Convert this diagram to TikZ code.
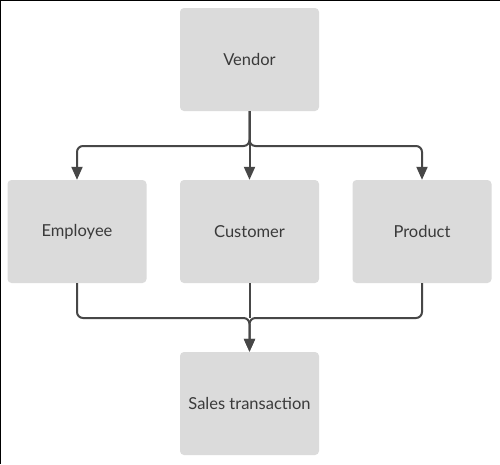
\documentclass[tikz,border=0pt]{standalone}
\usepackage{fontspec}
\setmainfont{Lato}
\usetikzlibrary{arrows.meta}
\begin{document}
\begin{tikzpicture}[x=1pt,y=-1pt,
  box/.style={fill=boxgray,draw=none,rounded corners=4pt,minimum width=139pt,minimum height=103pt,inner sep=0pt,
    font=\fontsize{16.5}{19}\selectfont,text=txtgray},
  conn/.style={draw=linegray,line width=2pt,rounded corners=6pt},
  arr/.style={conn,-{Triangle[width=11pt,length=13pt]}}]
\definecolor{boxgray}{HTML}{DBDBDB}
\definecolor{linegray}{HTML}{474747}
\definecolor{txtgray}{HTML}{3A3A3A}
\useasboundingbox (0,0) rectangle (500,464);
\fill[white] (0,0) rectangle (500,464);
\draw[black,line width=2.5pt] (0,464) -- (0,0) -- (500,0);
\node[box] (v) at (249.5,59.5) {Vendor};
\node[box] (e) at (77,231.5) {Employee};
\node[box] (c) at (249.5,231.5) {Customer};
\node[box] (p) at (422,231.5) {Product};
\node[box] (s) at (249.5,403.5) {Sales transaction};
\coordinate (top) at (249.5,146);
\coordinate (bot) at (249.5,318);
\draw[arr] (v.south) -- (top) -| (e.north);
\draw[arr] (v.south) -- (top) -| (p.north);
\draw[arr] (v.south) -- (c.north);
\draw[arr] (e.south) |- (bot) -- (s.north);
\draw[arr] (p.south) |- (bot) -- (s.north);
\draw[conn] (c.south) -- (bot);
\end{tikzpicture}
\end{document}
